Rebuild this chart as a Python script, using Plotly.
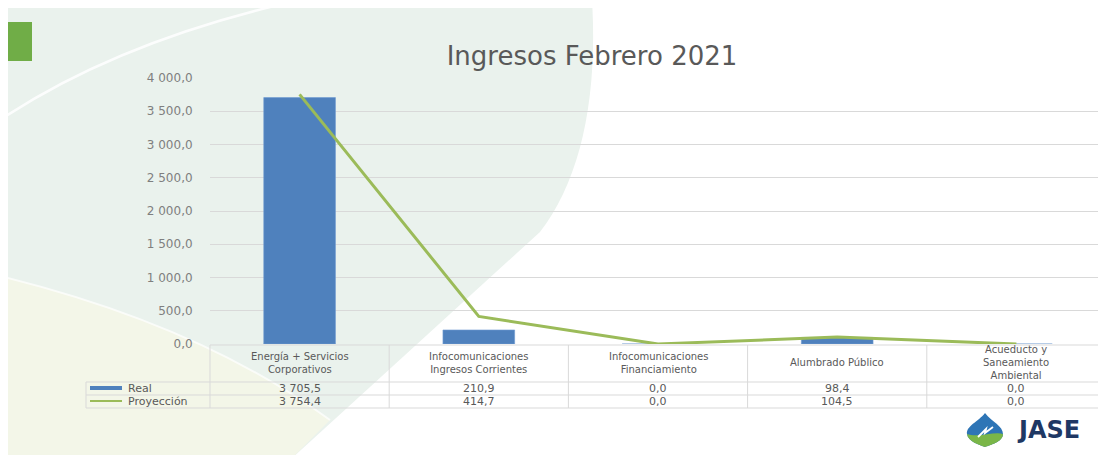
import plotly.graph_objects as go

# ---------------- data ----------------
categories = [
    "Energía + Servicios<br>Corporativos",
    "Infocomunicaciones<br>Ingresos Corrientes",
    "Infocomunicaciones<br>Financiamiento",
    "Alumbrado Público",
    "Acueducto y<br>Saneamiento<br>Ambiental",
]
real = [3705.5, 210.9, 0.0, 98.4, 0.0]
proyeccion = [3754.4, 414.7, 0.0, 104.5, 0.0]
series_names = ["Real", "Proyección"]
y_ticks = [0, 500, 1000, 1500, 2000, 2500, 3000, 3500, 4000]
title_text = "Ingresos Febrero 2021"

# ---------------- layout geometry ----------------
# page pixels (the figure is drawn at an 8px body offset)
OFF = 8
W, H = 1106 - OFF, 455 - OFF
L, R, T, B = 210, 1106, 78, 344   # plot area in page pixels

def fx(px):
    return (px - L) / (R - L)

def fy(py):
    return (B - py) / (B - T)

def fmt(v):
    return f"{v:,.1f}".replace(",", " ").replace(".", ",")

BLUE = "#4F81BD"
GREEN = "#9BBB59"
GRID = "#D9D9D9"
TXT = "#595959"
FONT = "DejaVu Sans"

fig = go.Figure()
fig.add_trace(go.Bar(x=categories, y=real, name=series_names[0],
                     marker=dict(color=BLUE, line=dict(color="#6F9BD1", width=0.6)),
                     width=0.4))
fig.add_trace(go.Scatter(x=categories, y=proyeccion, name=series_names[1],
                         mode="lines", line=dict(color=GREEN, width=3)))

shapes = []

def path_shape(d, fill, line_color="rgba(0,0,0,0)", width=0, layer="below"):
    shapes.append(dict(type="path", xref="paper", yref="paper", path=d,
                       fillcolor=fill, line=dict(color=line_color, width=width),
                       layer=layer))

def P(px, py):
    return f"{fx(px):.5f},{fy(py):.5f}"

# background green-grey region
path_shape(f"M {P(0,0)} L {P(592,0)} C {P(598,100)} {P(580,180)} {P(540,232)} "
           f"L {P(290,460)} L {P(0,460)} Z", "#EAF2ED")
# yellowish lower-left region
path_shape(f"M {P(0,276)} Q {P(200,325)} {P(330,420)} L {P(290,460)} L {P(0,460)} Z", "#F3F6E8")
# white arcs
path_shape(f"M {P(0,120)} Q {P(120,40)} {P(300,0)}", "rgba(0,0,0,0)", "rgba(255,255,255,0.85)", 2.5)
path_shape(f"M {P(0,276)} Q {P(200,325)} {P(330,420)}", "rgba(0,0,0,0)", "rgba(255,255,255,0.7)", 2)
# green corner rectangle
shapes.append(dict(type="rect", xref="paper", yref="paper", x0=fx(7), x1=fx(32),
                   y0=fy(61), y1=fy(22), fillcolor="#70AD47", line=dict(width=0), layer="below"))

# table lines
def hline(y, x0, x1):
    shapes.append(dict(type="line", xref="paper", yref="paper", x0=fx(x0), x1=fx(x1),
                       y0=fy(y), y1=fy(y), line=dict(color=GRID, width=1), layer="above"))

def vline(x, y0, y1):
    shapes.append(dict(type="line", xref="paper", yref="paper", x0=x, x1=x,
                       y0=fy(y0), y1=fy(y1), line=dict(color=GRID, width=1), layer="above"))

hline(345, L, R)
for yy in (382, 395, 408):
    hline(yy, 86, R)
vline(fx(86), 382, 408)
n = len(categories)
for k in range(n + 1):
    vline(k / n, 345, 408)

# legend keys inside table
shapes.append(dict(type="rect", xref="paper", yref="paper", x0=fx(90), x1=fx(122),
                   y0=fy(390), y1=fy(386), fillcolor=BLUE, line=dict(width=0)))
shapes.append(dict(type="line", xref="paper", yref="paper", x0=fx(90), x1=fx(122),
                   y0=fy(401), y1=fy(401), line=dict(color=GREEN, width=2)))

# logo drop
path_shape(f"M {P(985,413)} C {P(978,422)} {P(966,426)} {P(967,434)} C {P(968,442)} {P(980,445)} {P(985,447)} "
           f"C {P(990,445)} {P(1003,442)} {P(1003,434)} C {P(1003,426)} {P(992,422)} {P(985,413)} Z",
           "#2E75B6", layer="above")
path_shape(f"M {P(967,434)} C {P(968,442)} {P(980,445)} {P(985,447)} C {P(990,445)} {P(1003,442)} {P(1003,434)} "
           f"C {P(995,431)} {P(978,438)} {P(967,434)} Z", "#7AB648", layer="above")
path_shape(f"M {P(978,437)} L {P(986,429)} L {P(985,433)} L {P(993,427)}",
           "rgba(0,0,0,0)", "white", 1.8, layer="above")

annotations = []
HFS = 10
TFS = 11
# header labels
for c in categories:
    annotations.append(dict(x=c, xref="x", y=fy(362.5), yref="paper", text=c, showarrow=False,
                            xanchor="center", yanchor="middle",
                            font=dict(family=FONT, size=HFS, color=TXT)))
# values
for vals, yy in ((real, 388.5), (proyeccion, 401.5)):
    for c, v in zip(categories, vals):
        annotations.append(dict(x=c, xref="x", y=fy(yy), yref="paper", text=fmt(v),
                                showarrow=False, xanchor="center", yanchor="middle",
                                font=dict(family=FONT, size=TFS, color=TXT)))
# legend labels
for name, yy in zip(series_names, (388.5, 401.5)):
    annotations.append(dict(x=fx(126), xref="paper", y=fy(yy), yref="paper", text=name,
                            showarrow=False, xanchor="left", yanchor="middle",
                            font=dict(family=FONT, size=TFS, color=TXT)))
# logo text
annotations.append(dict(x=fx(1015), xref="paper", y=fy(430), yref="paper", text="<b>JASE</b>",
                        showarrow=False, xanchor="left", yanchor="middle",
                        font=dict(family=FONT, size=24, color="#1F3864")))

fig.update_layout(
    width=W, height=H,
    margin=dict(l=L - OFF, r=1106 - R, t=T - OFF, b=455 - B, autoexpand=False),
    paper_bgcolor="white",
    plot_bgcolor="rgba(0,0,0,0)",
    separators=", ",
    showlegend=False,
    title=dict(text=title_text, x=(592 - OFF) / W, xanchor="center",
               y=1 - (56 - OFF) / H, yanchor="middle",
               font=dict(family=FONT, size=26, color=TXT)),
    shapes=shapes,
    annotations=annotations,
    xaxis=dict(showticklabels=False, showgrid=False, zeroline=False, showline=False,
               ticks=""),
    yaxis=dict(range=[0, 4000], tickvals=y_ticks, tickformat=",.1f",
               showgrid=True, gridcolor=GRID, gridwidth=1, zeroline=False, showline=False,
               ticks="outside", ticklen=0, ticklabelstandoff=14,
               tickfont=dict(family=FONT, size=12, color="#7F7F7F")),
)

fig.write_html("out.html")
